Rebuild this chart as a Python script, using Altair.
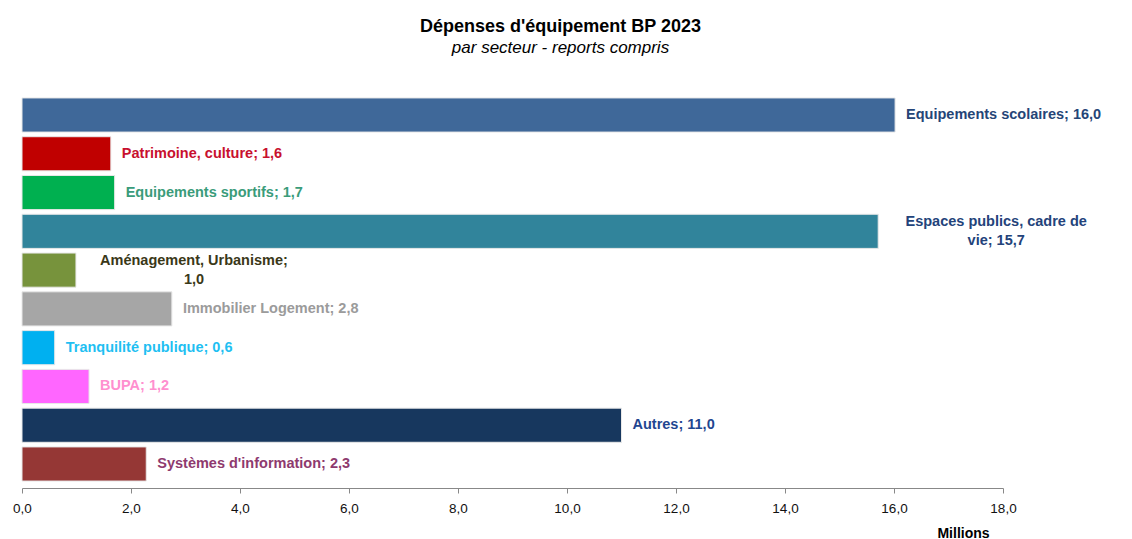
import altair as alt
import pandas as pd

categories = [
    "Equipements scolaires", "Patrimoine, culture", "Equipements sportifs",
    "Espaces publics, cadre de vie", "Aménagement, Urbanisme", "Immobilier Logement",
    "Tranquilité publique", "BUPA", "Autres", "Systèmes d'information",
]
values = [16.02, 1.63, 1.70, 15.71, 0.99, 2.75, 0.60, 1.23, 11.00, 2.28]
labels = [
    "Equipements scolaires; 16,0", "Patrimoine, culture; 1,6", "Equipements sportifs; 1,7",
    "Espaces publics, cadre de\nvie; 15,7", "Aménagement, Urbanisme;\n1,0",
    "Immobilier Logement; 2,8", "Tranquilité publique; 0,6", "BUPA;  1,2",
    "Autres; 11,0", "Systèmes d'information; 2,3",
]
bar_colors = ["#3F6899", "#C00000", "#00B050", "#31849B", "#77933C",
              "#A6A6A6", "#00B0F0", "#FF66FF", "#17375E", "#953735"]
text_colors = ["#254577", "#C8102E", "#3A9C7A", "#23437A", "#3A3818",
               "#9B9B9B", "#1FBFF2", "#FF8FCF", "#1F4690", "#8E3A6E"]
x_ticks = [0, 2, 4, 6, 8, 10, 12, 14, 16, 18]

df = pd.DataFrame({"cat": categories, "value": values, "label": labels})

FONT = "Liberation Sans"

y_enc = alt.Y("cat:N", sort=categories, axis=None,
              scale=alt.Scale(paddingInner=0.12, paddingOuter=0.05))
x_enc = alt.X("value:Q",
              scale=alt.Scale(domain=[0, 18], nice=False, zero=True),
              axis=alt.Axis(values=x_ticks, grid=False, offset=5, labelFlush=False,
                            labelExpr="replace(format(datum.value, '.1f'), '.', ',')",
                            labelFont=FONT, labelFontSize=13.5, labelColor="#111111",
                            labelPadding=8, tickSize=5, tickColor="#888888",
                            domainColor="#888888", title="Millions",
                            titleFont=FONT, titleFontSize=14, titleFontWeight="bold",
                            titleColor="#000000", titleX=941, titleY=45,
                            titleAlign="center", titleBaseline="middle"))
color_bar = alt.Color("cat:N", scale=alt.Scale(domain=categories, range=bar_colors), legend=None)
color_text = alt.Color("cat:N", scale=alt.Scale(domain=categories, range=text_colors), legend=None)

bars = alt.Chart(df).mark_bar(stroke="#e8e8e8", strokeWidth=1).encode(
    x=x_enc, y=y_enc, color=color_bar)

single = alt.Chart(df).transform_filter(
    "indexof(datum.label, '\\n') < 0"
).mark_text(align="left", baseline="middle", dx=11, font=FONT, fontSize=14.5,
            fontWeight="bold").encode(
    x="value:Q", y=alt.Y("cat:N", sort=categories), text="label:N", color=color_text)

multi = alt.Chart(df).transform_filter(
    "indexof(datum.label, '\\n') >= 0"
).mark_text(align="center", baseline="middle", dx=118, dy=-9, font=FONT, fontSize=14.5,
            fontWeight="bold", lineBreak="\n", lineHeight=19).encode(
    x="value:Q", y=alt.Y("cat:N", sort=categories), text="label:N", color=color_text)

chart = alt.layer(bars, single, multi).resolve_scale(color="independent").properties(
    width=981, height=387,
    padding={"left": 14, "top": 88, "right": 121, "bottom": 60},
    autosize=alt.AutoSizeParams(type="none"),
    title=alt.TitleParams(
        text="Dépenses  d'équipement BP 2023",
        subtitle="par secteur - reports compris",
        anchor="middle", dx=48, offset=40,
        font=FONT, fontSize=18, fontWeight="bold", color="#000000",
        subtitleFont=FONT, subtitleFontSize=17, subtitleFontStyle="italic",
        subtitleColor="#000000", subtitlePadding=4,
    ),
).configure_view(stroke=None)

chart.save("out.html", embed_options={"renderer": "svg", "actions": False})
